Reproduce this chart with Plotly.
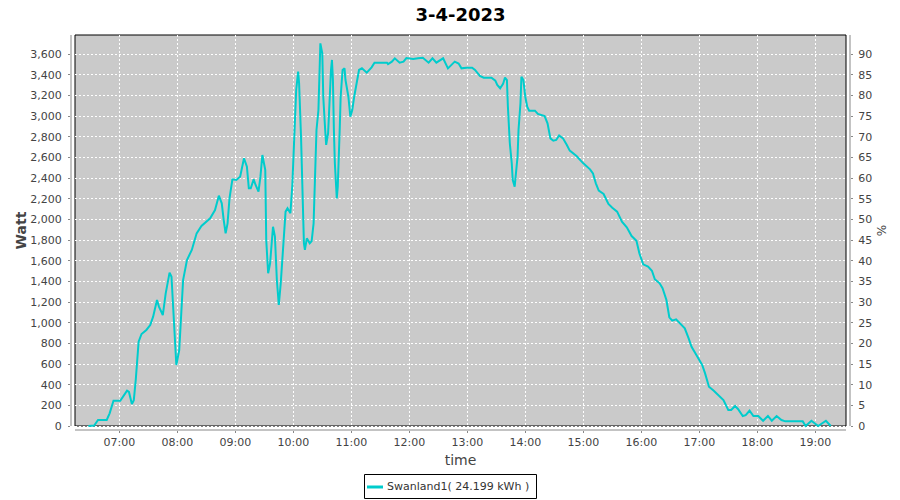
import plotly.graph_objects as go

# ---- data ----
day = "2023-04-03"
times = [
    "06:28", "06:34", "06:38", "06:47", "06:50", "06:54", "07:01", "07:04", "07:08", "07:10",
    "07:13", "07:15", "07:17", "07:20", "07:23", "07:28", "07:32", "07:35", "07:39", "07:41",
    "07:45", "07:48", "07:52", "07:54", "07:57", "07:59", "08:02", "08:05", "08:06", "08:10",
    "08:15", "08:20", "08:25", "08:34", "08:39", "08:43", "08:46", "08:48", "08:50", "08:52",
    "08:54", "08:57", "09:01", "09:05", "09:09", "09:12", "09:14", "09:16", "09:19", "09:21",
    "09:24", "09:26", "09:28", "09:31", "09:32", "09:34", "09:36", "09:39", "09:41", "09:43",
    "09:45", "09:47", "09:50", "09:52", "09:54", "09:57", "09:59", "10:01", "10:03", "10:05",
    "10:06", "10:08", "10:09", "10:10", "10:11", "10:12", "10:14", "10:17", "10:19", "10:21",
    "10:22", "10:24", "10:26", "10:27", "10:28", "10:30", "10:31", "10:33", "10:34", "10:36",
    "10:37", "10:39", "10:40", "10:41", "10:42", "10:43", "10:45", "10:46", "10:48", "10:49",
    "10:51", "10:53", "10:54", "10:57", "10:59", "11:01", "11:03", "11:06", "11:08", "11:11",
    "11:16", "11:21", "11:24", "11:37", "11:38", "11:42", "11:45", "11:50", "11:54", "11:57",
    "12:04", "12:09", "12:14", "12:20", "12:24", "12:28", "12:35", "12:40", "12:47", "12:51",
    "12:54", "12:59", "13:05", "13:08", "13:13", "13:17", "13:25", "13:29", "13:31", "13:34",
    "13:37", "13:39", "13:41", "13:42", "13:44", "13:46", "13:47", "13:49", "13:50", "13:52",
    "13:53", "13:55", "13:56", "13:58", "14:00", "14:02", "14:04", "14:10", "14:13", "14:17",
    "14:20", "14:23", "14:26", "14:29", "14:32", "14:35", "14:39", "14:43", "14:46", "14:53",
    "15:00", "15:07", "15:10", "15:13", "15:16", "15:21", "15:26", "15:30", "15:35", "15:40",
    "15:45", "15:50", "15:55", "15:58", "16:02", "16:07", "16:11", "16:14", "16:19", "16:22",
    "16:26", "16:29", "16:32", "16:36", "16:40", "16:45", "16:49", "16:52", "16:57", "17:03",
    "17:06", "17:10", "17:15", "17:20", "17:25", "17:30", "17:33", "17:37", "17:40", "17:45",
    "17:48", "17:52", "17:56", "18:01", "18:06", "18:11", "18:15", "18:20", "18:25", "18:29",
    "18:44", "18:47", "18:50", "18:56", "19:03", "19:11", "19:16",
]
watts = [
    0, 5, 58, 58, 123, 245, 245, 284, 342, 330,
    213, 250, 445, 817, 891, 930, 978, 1059, 1220, 1156,
    1075, 1285, 1485, 1446, 995, 591, 736, 1188, 1414, 1608,
    1705, 1866, 1937, 2011, 2092, 2231, 2157, 1995, 1866, 1963,
    2205, 2389, 2383, 2415, 2593, 2512, 2302, 2302, 2389, 2334,
    2270, 2415, 2625, 2480, 1801, 1479, 1576, 1930, 1834, 1414,
    1172, 1382, 1834, 2076, 2108, 2060, 2334, 2899, 3254, 3432,
    3319, 2802, 2415, 2076, 1769, 1705, 1818, 1769, 1790, 1963,
    2318, 2867, 3060, 3513, 3706, 3609, 3189, 2867, 2722, 2835,
    3093, 3448, 3545, 3351, 2867, 2544, 2205, 2318, 2867, 3189,
    3448, 3464, 3351, 3189, 2996, 3060, 3189, 3351, 3448, 3464,
    3422, 3474, 3519, 3519, 3505, 3529, 3561, 3519, 3529, 3564,
    3555, 3561, 3567, 3519, 3561, 3519, 3561, 3464, 3529, 3510,
    3464, 3470, 3470, 3448, 3390, 3374, 3374, 3345, 3303, 3271,
    3313, 3374, 3351, 3093, 2738, 2544, 2383, 2318, 2415, 2608,
    2867, 3125, 3383, 3351, 3189, 3093, 3054, 3054, 3022, 3012,
    3002, 2932, 2786, 2763, 2770, 2815, 2786, 2722, 2667, 2615,
    2544, 2486, 2447, 2350, 2279, 2247, 2150, 2114, 2076, 1979,
    1924, 1840, 1795, 1673, 1566, 1543, 1504, 1421, 1382, 1334,
    1220, 1053, 1020, 1033, 995, 946, 849, 768, 688, 591,
    510, 381, 342, 300, 252, 155, 155, 194, 165, 97,
    105, 148, 97, 97, 51, 97, 51, 97, 58, 45,
    51, 45, 0, 51, 0, 51, 0,
]
series_name = "Swanland1( 24.199 kWh )"
title_text = "3-4-2023"
watt_ticks = list(range(0, 3601, 200))
pct_ticks = list(range(0, 91, 5))

# ---- geometry ----
W, H = 900, 500
ML, MR, MT, MB = 71, 50, 31, 70
PW = W - ML - MR
PH = H - MT - MB
gap = 4
gx = gap / PW
gy = gap / PH


def px_x(p):
    return (p - ML) / PW


def px_y(p):
    return (MT + PH - p) / PH


FONT = "DejaVu Sans"
LINE = "#00CCCC"
PLOTBG = "#CACACA"
AXIS = "#888888"
TXT = "#444444"

x_vals = [f"{day} {t}" for t in times]

fig = go.Figure()
fig.add_trace(go.Scatter(
    x=x_vals, y=watts, mode="lines", name=series_name,
    line=dict(color=LINE, width=2), yaxis="y", showlegend=False,
))
fig.add_trace(go.Scatter(x=[], y=[], yaxis="y2", showlegend=False, hoverinfo="skip"))

y_top = 3825.6
y_bot = -38.7
pct_per_watt = 1 / 40

fig.update_layout(
    width=W, height=H, autosize=False,
    margin=dict(l=ML, r=MR, t=MT, b=MB, autoexpand=False),
    paper_bgcolor="white", plot_bgcolor="rgba(0,0,0,0)",
    font=dict(family=FONT, size=11, color=TXT),
    title=dict(text=f"<b>{title_text}</b>", x=0.5, xref="paper", xanchor="center",
               y=1 - 15 / H, yanchor="middle", automargin=False,
               font=dict(family=FONT, size=18, color="black")),
    xaxis=dict(
        type="date", automargin=False,
        range=[f"{day} 06:10:02", f"{day} 19:35:55"],
        tick0=f"{day} 07:00", dtick=3600000, tickformat="%H:%M",
        ticks="outside", ticklen=2, tickcolor=AXIS, tickwidth=1,
        showgrid=True, gridcolor="white", gridwidth=1, griddash="2px,2px",
        zeroline=False, showline=False,
        tickfont=dict(family=FONT, size=11, color=TXT),
        title=dict(text="time", standoff=6, font=dict(family=FONT, size=14, color=TXT)),
    ),
    yaxis=dict(
        range=[y_bot, y_top], automargin=False,
        tickmode="array", tickvals=watt_ticks, tickformat=",d",
        ticks="outside", ticklen=2, tickcolor=AXIS, tickwidth=1,
        showgrid=True, gridcolor="white", gridwidth=1, griddash="2px,2px",
        zeroline=False, showline=False,
        tickfont=dict(family=FONT, size=11, color=TXT),
        ticklabelstandoff=4,
        title=dict(text="<b>Watt</b>", standoff=0, font=dict(family=FONT, size=14, color=TXT)),
    ),
    yaxis2=dict(
        overlaying="y", side="right", automargin=False,
        range=[y_bot * pct_per_watt, y_top * pct_per_watt],
        tickmode="array", tickvals=pct_ticks,
        ticks="outside", ticklen=2, tickcolor=AXIS, tickwidth=1,
        showgrid=False, zeroline=False, showline=False,
        tickfont=dict(family=FONT, size=11, color=TXT),
        ticklabelstandoff=3,
        title=dict(text="%", standoff=6, font=dict(family=FONT, size=12, color=TXT)),
    ),
    showlegend=False,
    shapes=[
        dict(type="rect", xref="paper", yref="paper", x0=gx, x1=1 - gx, y0=gy, y1=1 - gy,
             fillcolor=PLOTBG, line=dict(width=0), layer="below"),
        dict(type="rect", xref="paper", yref="paper", x0=gx, x1=1 - gx, y0=gy, y1=1 - gy,
             fillcolor="rgba(0,0,0,0)", line=dict(color="black", width=1), layer="between"),
        dict(type="line", xref="paper", yref="paper", x0=0, x1=0, y0=gy, y1=1 - gy,
             line=dict(color=AXIS, width=1)),
        dict(type="line", xref="paper", yref="paper", x0=1, x1=1, y0=gy, y1=1 - gy,
             line=dict(color=AXIS, width=1)),
        dict(type="line", xref="paper", yref="paper", x0=gx, x1=1 - gx, y0=0, y1=0,
             line=dict(color=AXIS, width=1)),
        # legend box and sample line
        dict(type="rect", xref="paper", yref="paper",
             x0=px_x(364.5), x1=px_x(536.5), y0=px_y(498.5), y1=px_y(474.5),
             fillcolor="white", line=dict(color="black", width=1), layer="above"),
        dict(type="line", xref="paper", yref="paper",
             x0=px_x(367), x1=px_x(383), y0=px_y(487), y1=px_y(487),
             line=dict(color=LINE, width=3), layer="above"),
    ],
    annotations=[
        dict(text=series_name, xref="paper", yref="paper",
             x=px_x(385), y=px_y(486.5), xanchor="left", yanchor="middle",
             showarrow=False, font=dict(family=FONT, size=11, color="#333333")),
    ],
)

fig.write_html("out.html", config={"displayModeBar": False},
               post_script="document.body.style.margin='0';document.body.style.padding='0';")
